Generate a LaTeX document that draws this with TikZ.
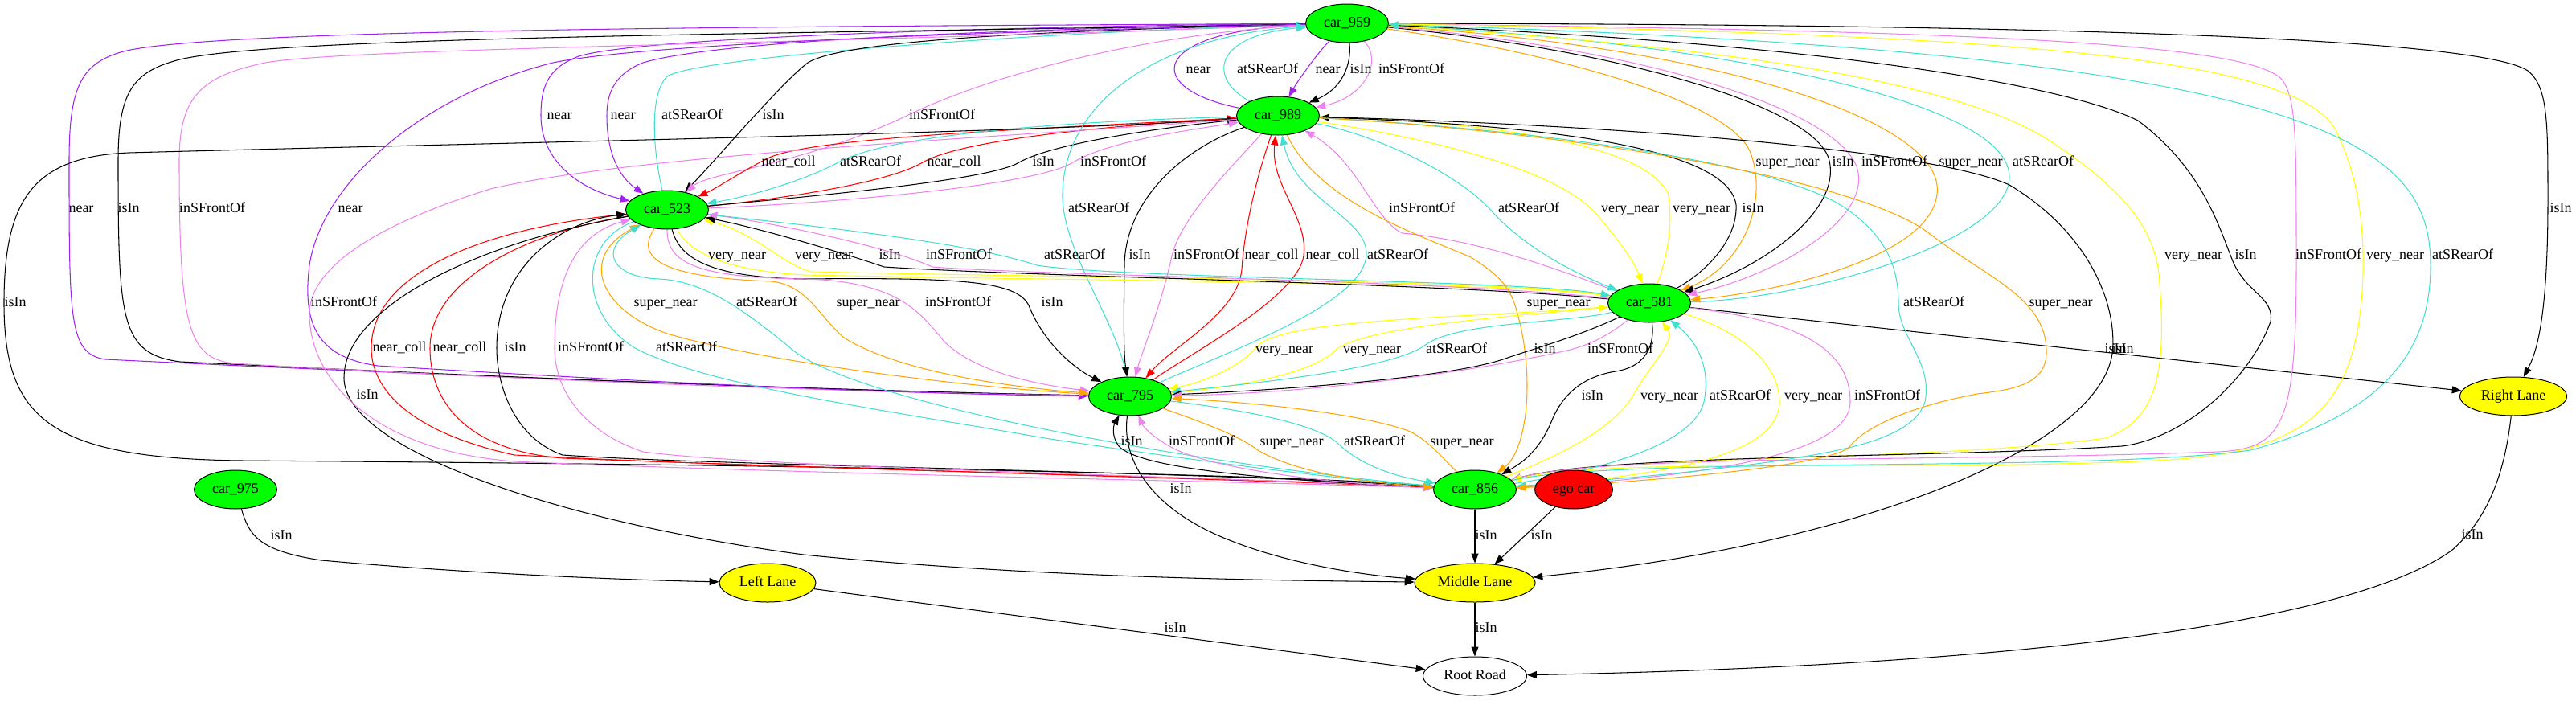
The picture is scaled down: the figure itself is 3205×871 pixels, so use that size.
\documentclass[tikz,border=0pt]{standalone}
\usepackage{fontspec}
\setmainfont{Liberation Serif}
\usetikzlibrary{shapes.geometric,arrows.meta}
\newcommand\lblfont{\fontsize{18}{20}\selectfont}
\definecolor{cpurple}{RGB}{160,32,240}
\definecolor{cturq}{RGB}{64,224,208}
\definecolor{cviolet}{RGB}{238,130,238}
\definecolor{corange}{RGB}{255,165,0}
\definecolor{cyellow}{RGB}{255,255,0}
\definecolor{cred}{RGB}{255,0,0}
\definecolor{cgreen}{RGB}{0,255,0}
\pgfdeclarelayer{edgelayer}
\pgfsetlayers{edgelayer,main}
\begin{document}
\begin{tikzpicture}[x=1pt,y=1pt,
  basenode/.style={ellipse, draw=black, line width=1pt, inner sep=0pt, minimum height=48pt, font=\lblfont, text height=12pt, text depth=4pt},
  car/.style={basenode, fill=cgreen, minimum width=103pt},
  egonode/.style={basenode, fill=cred, minimum width=97pt},
  lane/.style={basenode, fill=cyellow, minimum width=150pt},
  road/.style={basenode, fill=white, minimum width=129pt},
  lbl/.style={font=\lblfont, inner sep=0pt, text height=12pt, text depth=4pt},
  eg/.style={line width=1.05pt, -{Triangle[length=12pt,width=9pt]}},
  rnear/.style={eg, draw=cpurple},
  rcoll/.style={eg, draw=cred},
  rrear/.style={eg, draw=cturq},
  risin/.style={eg, draw=black},
  rfront/.style={eg, draw=cviolet},
  rvnear/.style={eg, draw=cyellow},
  rsnear/.style={eg, draw=corange}]
\useasboundingbox (0,0) rectangle (3205,-871);
% nodes
\node[car] (A) at (1676,-29) {car\_959};
\node[car] (B) at (1590,-144) {car\_989};
\node[car] (C) at (830,-261) {car\_523};
\node[car] (D) at (2052,-377) {car\_581};
\node[car] (E) at (1406,-493) {car\_795};
\node[car] (F) at (1835,-609) {car\_856};
\node[egonode] (G) at (1958,-609) {ego car};
\node[car] (H) at (293,-609) {car\_975};
\node[lane] (ML) at (1835,-725) {Middle Lane};
\node[lane,minimum width=120pt] (LL) at (955,-725) {Left Lane};
\node[lane,minimum width=133pt] (RL) at (3127,-493) {Right Lane};
\node[road] (RR) at (1835,-841) {Root Road};
\begin{pgfonlayer}{edgelayer}
% A-B
\draw[rnear] (A) .. controls (1640,-65) and (1615,-100) .. (B);
\draw[risin] (A) .. controls (1682,-80) and (1670,-110) .. (B);
\draw[rfront] (A) .. controls (1720,-75) and (1700,-120) .. (B);
\draw[rrear] (B) .. controls (1505,-100) and (1505,-45) .. (A);
\draw[rnear] (B) .. controls (1420,-110) and (1430,-40) .. (A);
% A-C
\draw[rnear] (A) .. controls (1300,-32) and (800,-45) .. (720,-70) .. controls (680,-85) and (673,-110) .. (673,-144) .. controls (673,-200) and (720,-235) .. (C);
\draw[rnear] (A) .. controls (1300,-35) and (900,-48) .. (800,-78) .. controls (765,-92) and (755,-115) .. (755,-144) .. controls (755,-190) and (770,-220) .. (C);
\draw[rrear] (C) .. controls (815,-200) and (805,-120) .. (830,-95) .. controls (870,-70) and (1300,-40) .. (A);
\draw[risin] (A) .. controls (1300,-38) and (1050,-50) .. (1005,-78) .. controls (970,-105) and (890,-200) .. (C);
\draw[rfront] (A) .. controls (1450,-40) and (1250,-85) .. (1128,-144) .. controls (1000,-205) and (880,-215) .. (C);
% A-E far left
\draw[rnear] (A) .. controls (1000,-33) and (250,-35) .. (150,-65) .. controls (100,-80) and (86,-110) .. (86,-200) .. controls (86,-400) and (86,-440) .. (131,-447) .. controls (500,-465) and (1000,-485) .. (E);
\draw[risin] (A) .. controls (1000,-42) and (330,-45) .. (220,-75) .. controls (165,-90) and (147,-115) .. (147,-200) .. controls (147,-400) and (150,-440) .. (224,-450) .. controls (600,-468) and (1000,-485) .. (E);
\draw[rfront] (A) .. controls (1000,-55) and (430,-60) .. (330,-78) .. controls (250,-95) and (223,-120) .. (223,-200) .. controls (223,-410) and (235,-445) .. (290,-452) .. controls (600,-470) and (1000,-487) .. (E);
\draw[rnear] (A) .. controls (1200,-40) and (800,-55) .. (688,-78) .. controls (520,-120) and (400,-230) .. (385,-330) .. controls (375,-410) and (400,-445) .. (470,-455) .. controls (800,-475) and (1100,-490) .. (E);
% B-C
\draw[rcoll] (B) .. controls (1300,-160) and (1010,-170) .. (955,-197) .. controls (925,-212) and (890,-235) .. (C);
\draw[rcoll] (C) .. controls (950,-250) and (1100,-230) .. (1148,-202) .. controls (1200,-172) and (1400,-155) .. (B);
\draw[rrear] (B) .. controls (1350,-150) and (1110,-165) .. (1043,-202) .. controls (1000,-225) and (930,-245) .. (C);
\draw[risin] (C) .. controls (1000,-245) and (1230,-225) .. (1268,-202) .. controls (1310,-178) and (1450,-158) .. (B);
\draw[rfront] (C) .. controls (1050,-252) and (1290,-230) .. (1335,-202) .. controls (1380,-175) and (1480,-162) .. (B);
% B-F far left
\draw[risin] (B) .. controls (1300,-165) and (600,-178) .. (160,-190) .. controls (40,-195) and (5,-250) .. (5,-377) .. controls (5,-520) and (60,-570) .. (300,-573) .. controls (1000,-578) and (1600,-590) .. (F);
% E-A
\draw[rrear] (E) .. controls (1390,-400) and (1320,-310) .. (1322,-240) .. controls (1325,-120) and (1450,-45) .. (A);
% B-E
\draw[risin] (B) .. controls (1470,-185) and (1400,-250) .. (1399,-330) .. controls (1398,-400) and (1398,-440) .. (E);
\draw[rfront] (B) .. controls (1530,-210) and (1470,-270) .. (1458,-318) .. controls (1445,-380) and (1420,-440) .. (E);
\draw[rcoll] (B) .. controls (1560,-230) and (1548,-290) .. (1545,-335) .. controls (1540,-390) and (1460,-430) .. (E);
\draw[rcoll] (E) .. controls (1480,-440) and (1615,-370) .. (1622,-318) .. controls (1628,-270) and (1580,-230) .. (B);
\draw[rrear] (E) .. controls (1520,-440) and (1695,-380) .. (1700,-318) .. controls (1703,-270) and (1612,-250) .. (B);
% C-D
\draw[rvnear] (C) .. controls (850,-300) and (875,-335) .. (1000,-342) .. controls (1400,-350) and (1900,-352) .. (D);
\draw[rvnear] (D) .. controls (1900,-348) and (1300,-345) .. (1010,-338) .. controls (975,-330) and (940,-290) .. (C);
\draw[risin] (D) .. controls (1800,-352) and (1300,-345) .. (1100,-332) .. controls (1050,-315) and (950,-285) .. (C);
\draw[rfront] (D) .. controls (1800,-348) and (1300,-343) .. (1160,-332) .. controls (1100,-305) and (950,-275) .. (C);
\draw[rrear] (C) .. controls (1000,-280) and (1200,-300) .. (1290,-330) .. controls (1400,-347) and (1900,-348) .. (D);
% C-E
\draw[risin] (C) .. controls (845,-320) and (880,-345) .. (1000,-347) .. controls (1200,-345) and (1265,-350) .. (1280,-380) .. controls (1300,-430) and (1340,-460) .. (E);
\draw[rfront] (C) .. controls (830,-325) and (860,-345) .. (1000,-347) .. controls (1120,-350) and (1145,-390) .. (1175,-425) .. controls (1220,-470) and (1320,-482) .. (E);
\draw[rsnear] (C) .. controls (790,-320) and (820,-345) .. (960,-350) .. controls (1005,-355) and (1020,-395) .. (1050,-420) .. controls (1130,-470) and (1300,-485) .. (E);
\draw[rsnear] (E) .. controls (1200,-482) and (950,-450) .. (830,-415) .. controls (745,-385) and (720,-320) .. (C);
\draw[rrear] (F) .. controls (1500,-580) and (1050,-500) .. (980,-430) .. controls (930,-390) and (880,-350) .. (820,-347) .. controls (760,-345) and (745,-310) .. (C);
\draw[rrear] (C) .. controls (720,-300) and (720,-390) .. (790,-433) .. controls (880,-480) and (1100,-510) .. (1300,-545) .. controls (1600,-590) and (1720,-600) .. (F);
% D-B
\draw[rfront] (D) .. controls (1950,-340) and (1850,-300) .. (1745,-290) .. controls (1710,-275) and (1690,-200) .. (B);
\draw[rrear] (B) .. controls (1720,-170) and (1820,-220) .. (1858,-265) .. controls (1900,-310) and (1960,-340) .. (D);
\draw[rvnear] (B) .. controls (1800,-175) and (1940,-215) .. (1985,-265) .. controls (2020,-305) and (2035,-330) .. (D);
\draw[rvnear] (D) .. controls (2075,-320) and (2082,-275) .. (2075,-240) .. controls (2040,-170) and (1800,-150) .. (B);
\draw[risin] (D) .. controls (2120,-340) and (2162,-300) .. (2160,-255) .. controls (2150,-180) and (1900,-155) .. (B);
\draw[rsnear] (B) .. controls (1640,-250) and (1760,-290) .. (1830,-320) .. controls (1870,-345) and (1880,-360) .. (1888,-390) .. controls (1910,-470) and (1900,-560) .. (F);
% A-D
\draw[rsnear] (A) .. controls (1900,-60) and (2150,-120) .. (2178,-190) .. controls (2200,-250) and (2170,-330) .. (D);
\draw[risin] (A) .. controls (2000,-60) and (2260,-130) .. (2276,-200) .. controls (2290,-260) and (2200,-330) .. (D);
\draw[rfront] (A) .. controls (2050,-60) and (2300,-140) .. (2312,-215) .. controls (2322,-280) and (2200,-345) .. (D);
\draw[rsnear] (A) .. controls (2150,-60) and (2400,-150) .. (2410,-230) .. controls (2420,-320) and (2200,-365) .. (D);
\draw[rrear] (D) .. controls (2250,-372) and (2500,-300) .. (2500,-220) .. controls (2500,-120) and (2100,-50) .. (A);
% right lane
\draw[risin] (A) .. controls (2500,-30) and (3080,-45) .. (3145,-88) .. controls (3170,-108) and (3170,-150) .. (3170,-250) .. controls (3170,-400) and (3155,-440) .. (RL);
\draw[risin] (D) -- (RL);
\draw[risin] (B) .. controls (2000,-155) and (2400,-185) .. (2500,-230) .. controls (2600,-290) and (2635,-380) .. (2628,-440) .. controls (2610,-560) and (2300,-680) .. (ML);
% A-F right side
\draw[rvnear] (A) .. controls (2200,-60) and (2450,-110) .. (2550,-175) .. controls (2650,-240) and (2680,-290) .. (2686,-340) .. controls (2695,-450) and (2690,-520) .. (2620,-545) .. controls (2400,-575) and (2000,-565) .. (F);
\draw[risin] (A) .. controls (2300,-55) and (2580,-110) .. (2660,-150) .. controls (2740,-210) and (2760,-280) .. (2778,-325) .. controls (2795,-365) and (2830,-370) .. (2825,-400) .. controls (2800,-470) and (2720,-545) .. (2640,-555) .. controls (2400,-570) and (2000,-565) .. (F);
\draw[rfront] (A) .. controls (2400,-38) and (2800,-50) .. (2840,-100) .. controls (2857,-125) and (2857,-170) .. (2857,-330) .. controls (2857,-530) and (2840,-558) .. (2760,-562) .. controls (2400,-575) and (2000,-565) .. (F);
\draw[rvnear] (A) .. controls (2500,-42) and (2850,-70) .. (2905,-160) .. controls (2935,-220) and (2941,-280) .. (2940,-340) .. controls (2935,-500) and (2880,-560) .. (2700,-572) .. controls (2400,-588) and (2000,-568) .. (F);
\draw[rrear] (F) .. controls (2000,-568) and (2600,-588) .. (2800,-560) .. controls (2985,-510) and (3024,-420) .. (3024,-330) .. controls (3024,-180) and (2900,-65) .. (A);
% D-E
\draw[rvnear] (D) .. controls (1850,-395) and (1600,-395) .. (1565,-430) .. controls (1545,-455) and (1500,-475) .. (E);
\draw[rvnear] (E) .. controls (1560,-480) and (1640,-460) .. (1662,-435) .. controls (1700,-405) and (1900,-392) .. (D);
\draw[rrear] (D) .. controls (1950,-402) and (1810,-400) .. (1772,-430) .. controls (1730,-460) and (1550,-478) .. (E);
\draw[risin] (D) .. controls (1960,-420) and (1910,-433) .. (1870,-447) .. controls (1800,-470) and (1600,-485) .. (E);
\draw[rfront] (D) .. controls (2010,-410) and (1990,-425) .. (1954,-435) .. controls (1800,-470) and (1600,-490) .. (E);
% D-F
\draw[risin] (D) .. controls (2058,-420) and (2055,-455) .. (2010,-462) .. controls (1960,-470) and (1940,-500) .. (1930,-525) .. controls (1915,-560) and (1895,-575) .. (F);
\draw[rvnear] (F) .. controls (1930,-570) and (2000,-540) .. (2030,-495) .. controls (2055,-450) and (2085,-425) .. (D);
\draw[rrear] (F) .. controls (1960,-590) and (2105,-560) .. (2120,-500) .. controls (2130,-450) and (2105,-420) .. (D);
\draw[rvnear] (D) .. controls (2160,-410) and (2214,-450) .. (2214,-500) .. controls (2214,-560) and (2100,-590) .. (F);
\draw[rfront] (D) .. controls (2250,-400) and (2302,-440) .. (2302,-500) .. controls (2302,-560) and (2150,-592) .. (F);
% B-F right side
\draw[rrear] (B) .. controls (1900,-160) and (2200,-200) .. (2290,-255) .. controls (2345,-290) and (2362,-330) .. (2362,-377) .. controls (2362,-420) and (2405,-450) .. (2395,-500) .. controls (2380,-545) and (2300,-560) .. (2200,-575) .. controls (2050,-595) and (1950,-600) .. (F);
\draw[rsnear] (B) .. controls (1900,-160) and (2300,-215) .. (2400,-290) .. controls (2470,-345) and (2548,-370) .. (2546,-440) .. controls (2545,-480) and (2500,-485) .. (2460,-490) .. controls (2380,-505) and (2320,-530) .. (2300,-557) .. controls (2270,-580) and (2050,-600) .. (F);
% C-F bottom left
\draw[rcoll] (F) .. controls (1500,-592) and (1000,-585) .. (640,-566) .. controls (520,-540) and (462,-490) .. (462,-433) .. controls (462,-340) and (600,-285) .. (C);
\draw[rcoll] (C) .. controls (650,-290) and (535,-350) .. (535,-433) .. controls (535,-500) and (580,-560) .. (700,-570) .. controls (1100,-585) and (1600,-598) .. (F);
\draw[risin] (F) .. controls (1500,-586) and (900,-580) .. (700,-566) .. controls (640,-545) and (618,-480) .. (618,-433) .. controls (618,-330) and (700,-275) .. (C);
\draw[rfront] (F) .. controls (1500,-592) and (950,-582) .. (800,-562) .. controls (720,-535) and (690,-480) .. (690,-433) .. controls (690,-340) and (720,-290) .. (C);
\draw[risin] (C) .. controls (600,-300) and (428,-380) .. (428,-470) .. controls (428,-560) and (700,-650) .. (1000,-690) .. controls (1300,-720) and (1600,-722) .. (ML);
\draw[rfront] (B) .. controls (1300,-168) and (800,-190) .. (610,-235) .. controls (450,-285) and (385,-340) .. (385,-390) .. controls (385,-470) and (460,-560) .. (640,-574) .. controls (1000,-590) and (1600,-600) .. (F);
% E-F
\draw[risin] (F) .. controls (1600,-598) and (1420,-585) .. (1392,-555) .. controls (1383,-543) and (1385,-530) .. (E);
\draw[risin] (E) .. controls (1395,-570) and (1430,-630) .. (1520,-668) .. controls (1600,-702) and (1700,-716) .. (ML);
\draw[rfront] (F) .. controls (1650,-602) and (1500,-582) .. (1455,-555) .. controls (1432,-542) and (1422,-530) .. (E);
\draw[rsnear] (E) .. controls (1480,-520) and (1540,-540) .. (1565,-560) .. controls (1620,-592) and (1720,-602) .. (F);
\draw[rrear] (E) .. controls (1550,-510) and (1640,-528) .. (1665,-552) .. controls (1700,-585) and (1750,-595) .. (F);
\draw[rsnear] (F) .. controls (1795,-570) and (1775,-545) .. (1750,-535) .. controls (1680,-512) and (1550,-500) .. (E);
% lanes and road
\draw[risin] (F) -- (ML);
\draw[risin] (G) -- (ML);
\draw[risin] (ML) -- (RR);
\draw[risin] (LL) -- (RR);
\draw[risin] (H) .. controls (310,-665) and (320,-685) .. (400,-697) .. controls (600,-715) and (800,-722) .. (LL);
\draw[risin] (RL) .. controls (3115,-600) and (3090,-650) .. (3050,-685) .. controls (2900,-790) and (2400,-830) .. (RR);
\end{pgfonlayer}
% labels
\foreach \x/\y/\t [count=\i] in {
1652/87/near, 1693/87/isIn, 1756/87/inSFrontOf, 1577/87/atSRearOf, 1491/87/near,
696/144/near, 775/144/near, 861/144/atSRearOf, 962/144/isIn, 1172/144/inSFrontOf,
101/260/near, 160/260/isIn, 264/260/inSFrontOf, 436/260/near,
981/202/near\_coll, 1187/202/near\_coll, 1083/202/atSRearOf, 1298/202/isIn, 1385/202/inSFrontOf,
19/377/isIn,
1367/260/atSRearOf, 1418/318/isIn, 1501/318/inSFrontOf, 1582/318/near\_coll, 1658/318/near\_coll, 1739/318/atSRearOf,
917/318/very\_near, 1025/318/very\_near, 1107/318/isIn, 1193/318/inSFrontOf, 1337/318/atSRearOf, 1309/377/isIn,
1769/260/inSFrontOf, 1902/260/atSRearOf, 2028/260/very\_near, 2117/260/very\_near, 2181/260/isIn, 1939/377/super\_near,
2224/202/super\_near, 2293/202/isIn, 2357/202/inSFrontOf, 2452/202/super\_near, 2542/202/atSRearOf, 3186/260/isIn,
2632/435/isIn, 2641/435/isIn,
2729/318/very\_near, 2794/318/isIn, 2897/318/inSFrontOf, 2980/318/very\_near, 3064/318/atSRearOf,
1598/435/very\_near, 1707/435/very\_near, 1812/435/atSRearOf, 1922/435/isIn, 2016/435/inSFrontOf,
1981/493/isIn, 2077/493/very\_near, 2165/493/atSRearOf, 2256/493/very\_near, 2348/493/inSFrontOf,
2406/377/atSRearOf, 2564/377/super\_near,
828/377/super\_near, 1080/377/super\_near, 954/377/atSRearOf, 854/433/atSRearOf, 1192/377/inSFrontOf,
497/433/near\_coll, 572/433/near\_coll, 641/433/isIn, 735/433/inSFrontOf, 457/492/isIn, 428/377/inSFrontOf,
1408/550/isIn, 1469/609/isIn, 1495/550/inSFrontOf, 1607/550/super\_near, 1710/550/atSRearOf, 1819/550/super\_near,
1849/667/isIn, 1918/667/isIn, 1849/782/isIn, 1462/782/isIn, 350/667/isIn, 3076/666/isIn}
  \node[lbl] (l\i) at (\x,-\y) {\t};
\end{tikzpicture}
\end{document}
